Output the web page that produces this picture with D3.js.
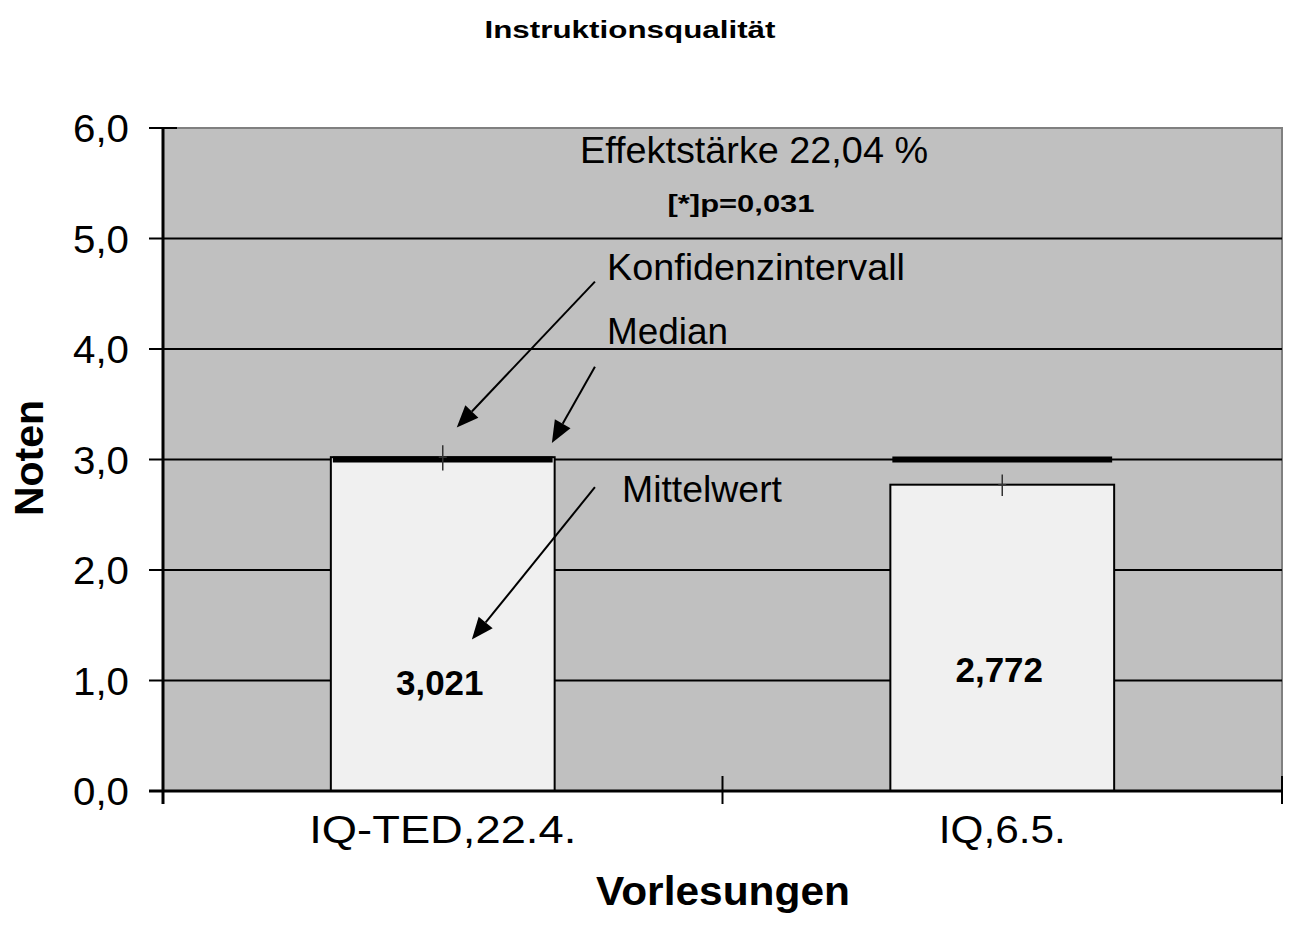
<!DOCTYPE html>
<html>
<head>
<meta charset="utf-8">
<script src="https://cdn.jsdelivr.net/npm/d3@7"></script>
<style>
  body { margin: 0; background: #fff; }
  svg text { font-family: "Liberation Sans", Arial, sans-serif; fill: #000; }
</style>
</head>
<body>
<svg id="chart" width="1290" height="945"></svg>
<script>
// data
const categories = ['IQ-TED,22.4.', 'IQ,6.5.'];
const means = [3.021, 2.772];
const medians = [3.0, 3.0];
const ciLow = [2.90, 2.67];
const ciHigh = [3.13, 2.865];
const valueLabels = ['3,021', '2,772'];
const yTicks = [0, 1, 2, 3, 4, 5, 6];

const svg = d3.select('#chart');
const plotL = 163, plotR = 1282, plotT = 128, plotB = 791;

let x = d3.scaleBand().domain(categories).range([plotL, plotR]);
let xLin = d3.scaleLinear().domain([0, 2]).range([plotL, plotR]); // for annotations
let y = d3.scaleLinear().domain([0, 6]).range([plotB, plotT]);
const fmt = d => d.toFixed(1).replace('.', ',');

// the original text is a bit wider than Liberation Sans, stretch it
function stretch(sel, w) {
  sel.attr('textLength', w).attr('lengthAdjust', 'spacingAndGlyphs');
  return sel;
}

// plot background
svg.append('rect')
  .attr('x', plotL).attr('y', plotT)
  .attr('width', plotR - plotL).attr('height', plotB - plotT)
  .attr('fill', '#c0c0c0');

// top + right border (grey)
svg.append('path')
  .attr('d', `M${plotL},${plotT}H${plotR}V${plotB}`)
  .attr('fill', 'none').attr('stroke', '#808080').attr('stroke-width', 2);

// gridlines
svg.append('g').selectAll('line')
  .data(yTicks.filter(d => d > 0 && d < 6))
  .join('line')
  .attr('x1', plotL).attr('x2', plotR)
  .attr('y1', d => y(d)).attr('y2', d => y(d))
  .attr('stroke', '#000').attr('stroke-width', 2);

// bars
const barW = x.bandwidth() * 0.4;
svg.append('g').selectAll('rect')
  .data(means)
  .join('rect')
  .attr('x', (d, i) => x(categories[i]) + x.bandwidth() / 2 - barW / 2)
  .attr('y', d => y(d))
  .attr('width', barW)
  .attr('height', d => plotB - y(d))
  .attr('fill', '#f0f0f0').attr('stroke', '#000').attr('stroke-width', 2);

// median lines
svg.append('g').selectAll('line')
  .data(medians)
  .join('line')
  .attr('x1', (d, i) => x(categories[i]) + x.bandwidth() / 2 - barW / 2 + 2)
  .attr('x2', (d, i) => x(categories[i]) + x.bandwidth() / 2 + barW / 2 - 2)
  .attr('y1', d => y(d)).attr('y2', d => y(d))
  .attr('stroke', '#000').attr('stroke-width', 6);

// confidence intervals
const ci = svg.append('g').attr('stroke', '#333').attr('stroke-width', 1.5);
categories.forEach((c, i) => {
  let cx = x(c) + x.bandwidth() / 2;
  ci.append('line').attr('x1', cx).attr('x2', cx)
    .attr('y1', y(ciHigh[i])).attr('y2', y(ciLow[i]));
  ci.append('line').attr('x1', cx - 4).attr('x2', cx + 4)
    .attr('y1', y(means[i])).attr('y2', y(means[i]));
});

// axes
svg.append('line').attr('x1', plotL).attr('x2', plotL).attr('y1', plotT).attr('y2', plotB + 13)
  .attr('stroke', '#000').attr('stroke-width', 3);
svg.append('line').attr('x1', plotL - 14).attr('x2', plotR).attr('y1', plotB).attr('y2', plotB)
  .attr('stroke', '#000').attr('stroke-width', 3);

// y ticks + labels
svg.append('g').selectAll('line')
  .data(yTicks)
  .join('line')
  .attr('x1', plotL - 14).attr('x2', d => d === 6 ? plotL + 14 : plotL)
  .attr('y1', d => y(d)).attr('y2', d => y(d))
  .attr('stroke', '#000').attr('stroke-width', 2);
svg.append('g').selectAll('text')
  .data(yTicks)
  .join('text')
  .attr('x', 129).attr('y', d => y(d) + 14)
  .attr('text-anchor', 'end')
  .style('font-size', '38px')
  .attr('textLength', 56).attr('lengthAdjust', 'spacingAndGlyphs')
  .text(fmt);

// x ticks (between categories)
svg.append('g').selectAll('line')
  .data([0, 1, 2])
  .join('line')
  .attr('x1', d => xLin(d)).attr('x2', d => xLin(d))
  .attr('y1', plotB - 15).attr('y2', plotB + 13)
  .attr('stroke', '#000').attr('stroke-width', 2);

const xLabelW = [267, 127];
svg.append('g').selectAll('text')
  .data(categories)
  .join('text')
  .attr('x', d => x(d) + x.bandwidth() / 2)
  .attr('y', 843)
  .attr('text-anchor', 'middle')
  .style('font-size', '38px')
  .attr('textLength', (d, i) => xLabelW[i]).attr('lengthAdjust', 'spacingAndGlyphs')
  .text(d => d);

// value labels inside bars
const labelAt = [0.87, 0.99];
svg.append('g').selectAll('text')
  .data(valueLabels)
  .join('text')
  .attr('x', (d, i) => x(categories[i]) + x.bandwidth() / 2 - 3)
  .attr('y', (d, i) => y(labelAt[i]))
  .attr('text-anchor', 'middle')
  .style('font-size', '35px').style('font-weight', 'bold')
  .text(d => d);

// titles
stretch(svg.append('text').attr('x', 630).attr('y', 38).attr('text-anchor', 'middle')
  .style('font-size', '24px').style('font-weight', 'bold')
  .text('Instruktionsqualität'), 291);
stretch(svg.append('text').attr('x', 723).attr('y', 905).attr('text-anchor', 'middle')
  .style('font-size', '41px').style('font-weight', 'bold')
  .text('Vorlesungen'), 254);
svg.append('text').attr('transform', 'translate(43,458) rotate(-90)').attr('text-anchor', 'middle')
  .style('font-size', '41px').style('font-weight', 'bold')
  .text('Noten');

// annotations
stretch(svg.append('text').attr('x', 754).attr('y', 163).attr('text-anchor', 'middle')
  .style('font-size', '36px').text('Effektstärke 22,04 %'), 348);
stretch(svg.append('text').attr('x', 741).attr('y', 212).attr('text-anchor', 'middle')
  .style('font-size', '24px').style('font-weight', 'bold').text('[*]p=0,031'), 147);
stretch(svg.append('text').attr('x', 607).attr('y', 280).style('font-size', '36px')
  .text('Konfidenzintervall'), 298);
stretch(svg.append('text').attr('x', 607).attr('y', 344).style('font-size', '36px')
  .text('Median'), 121);
stretch(svg.append('text').attr('x', 622).attr('y', 502).style('font-size', '36px')
  .text('Mittelwert'), 160);

// arrows (category-space x, data y)
const arrows = [
  {from: [0.772, 4.61], to: [0.525, 3.29]},
  {from: [0.772, 3.84], to: [0.695, 3.15]},
  {from: [0.772, 2.75], to: [0.552, 1.37]}
];
const ag = svg.append('g');
arrows.forEach(a => {
  let x1 = xLin(a.from[0]), y1 = y(a.from[1]);
  let x2 = xLin(a.to[0]), y2 = y(a.to[1]);
  let ang = Math.atan2(y2 - y1, x2 - x1);
  let len = 22, half = 9;
  let bx = x2 - len * Math.cos(ang), by = y2 - len * Math.sin(ang);
  ag.append('line').attr('x1', x1).attr('y1', y1).attr('x2', bx).attr('y2', by)
    .attr('stroke', '#000').attr('stroke-width', 2);
  ag.append('path')
    .attr('d', `M${x2},${y2}L${bx + half * Math.sin(ang)},${by - half * Math.cos(ang)}L${bx - half * Math.sin(ang)},${by + half * Math.cos(ang)}Z`)
    .attr('fill', '#000');
});
</script>
</body>
</html>
